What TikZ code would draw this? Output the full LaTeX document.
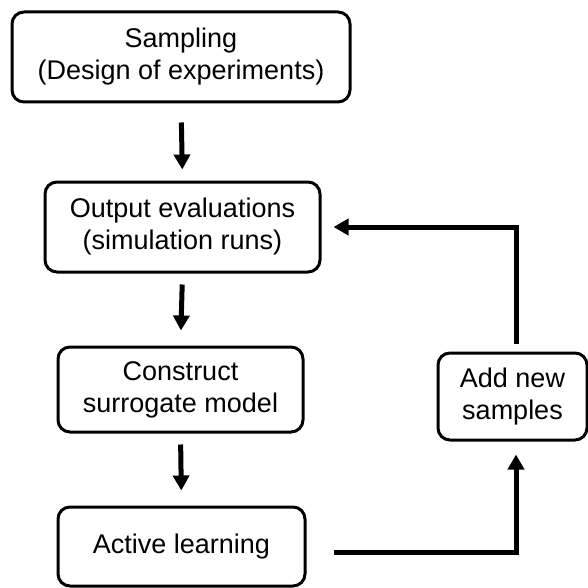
\documentclass[tikz,border=0pt]{standalone}
\usepackage{fontspec}
\setmainfont{Liberation Sans}
\usetikzlibrary{arrows.meta}
\begin{document}
\begin{tikzpicture}[x=1pt,y=-1pt,
  box/.style={draw,line width=3pt,rounded corners=12pt,align=center,inner sep=0pt,
    font=\fontsize{27}{32}\selectfont},
  arr/.style={line width=5pt,-{Triangle[width=16pt,length=15pt]}}]
\useasboundingbox (0,0) rectangle (587,588);
\node[box,minimum width=338pt,minimum height=90pt] (b1) at (181,57) {Sampling\\(Design of experiments)};
\node[box,minimum width=275pt,minimum height=90pt] (b2) at (182.5,227) {Output evaluations\\(simulation runs)};
\node[box,minimum width=245pt,minimum height=85pt] (b3) at (180.5,389.5) {Construct\\surrogate model};
\node[box,minimum width=247pt,minimum height=79pt] (b4) at (181.5,546.5) {Active learning};
\node[box,minimum width=149pt,minimum height=87pt] (b5) at (512.5,396.5) {Add new\\samples};
\draw[arr,shorten <=19pt,shorten >=11pt] (b1.south) -- (b2.north);
\draw[arr,shorten <=11pt,shorten >=15pt] (b2.south) -- (b3.north);
\draw[arr,shorten <=11pt,shorten >=15pt] (b3.south) -- (b4.north);
\coordinate (k1) at (516,552);
\coordinate (k2) at (516,227);
\draw[arr,shorten <=27pt,shorten >=13pt] (b4.east |- k1) -- (k1) -- (k1 |- b5.south);
\draw[arr,shorten <=8pt,shorten >=12pt] (k2 |- b5.north) -- (k2) -- (b2.east);
\end{tikzpicture}
\end{document}
